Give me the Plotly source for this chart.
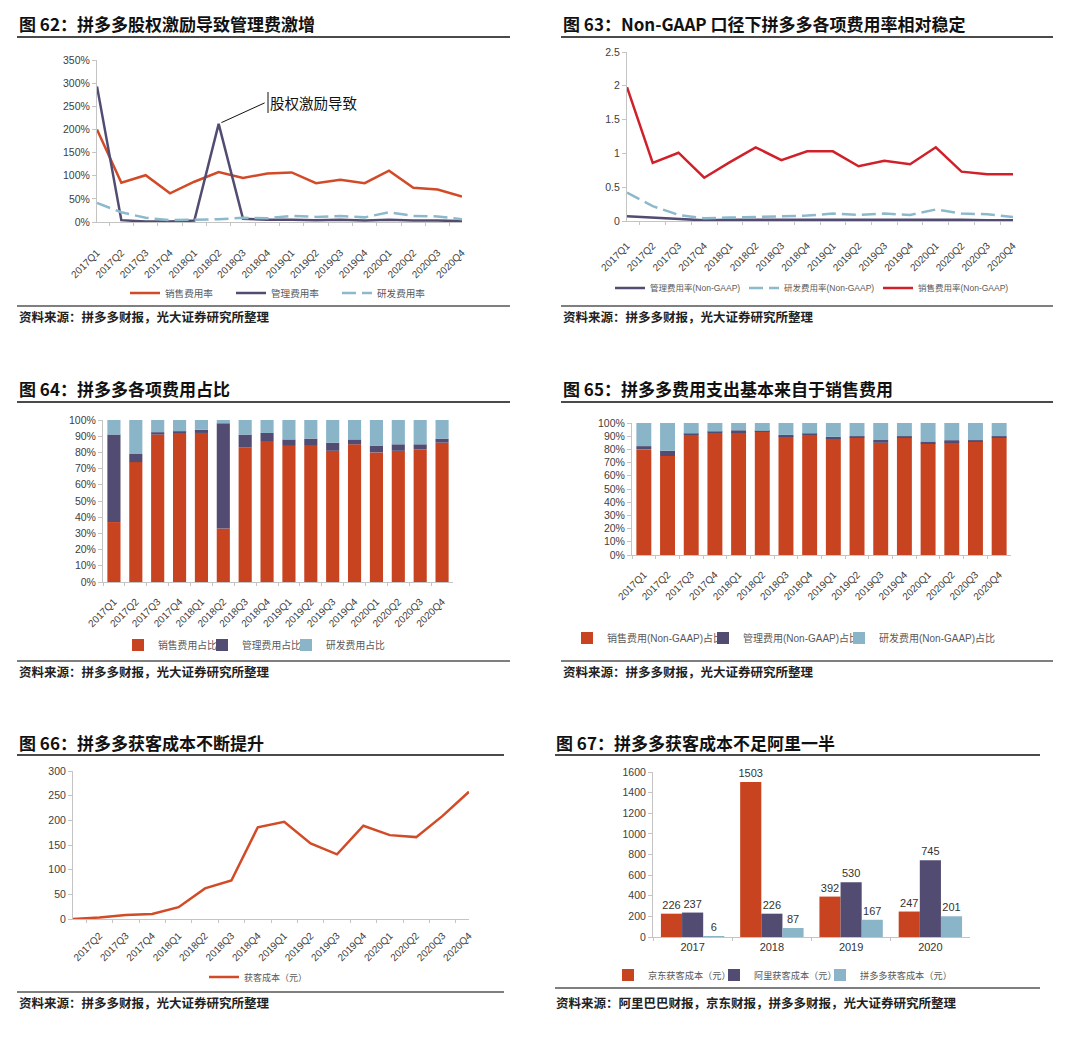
import plotly.graph_objects as go

# The page body has an 8px margin, so the figure is drawn 8px in from the window corner.
OFF = 8
W, H = 1072, 1024


def fx(p):
    return (p - OFF) / W


def fy(p):
    return 1 - (p - OFF) / H


# ---------------- data ----------------
quarters = ["2017Q1", "2017Q2", "2017Q3", "2017Q4",
            "2018Q1", "2018Q2", "2018Q3", "2018Q4",
            "2019Q1", "2019Q2", "2019Q3", "2019Q4",
            "2020Q1", "2020Q2", "2020Q3", "2020Q4"]

# 图62 (%)
sales62 = [200, 85, 101, 62, 87, 108, 95, 105, 107, 84, 91, 84, 111, 74, 70, 55]
admin62 = [293, 4, 1, 1, 3, 212, 7, 5, 5, 4, 5, 3, 5, 3, 3, 2]
rd62 = [41, 21, 9, 4, 5, 6, 9, 8, 13, 11, 13, 10, 21, 13, 12, 6]

# 图63
admin63 = [0.07, 0.05, 0.02, 0.01, 0.02, 0.02, 0.02, 0.02, 0.02, 0.02, 0.03, 0.02, 0.02, 0.02, 0.01, 0.01]
rd63 = [0.42, 0.22, 0.09, 0.04, 0.05, 0.06, 0.08, 0.08, 0.11, 0.09, 0.11, 0.09, 0.17, 0.11, 0.10, 0.06]
sales63 = [1.98, 0.86, 1.01, 0.64, 0.87, 1.09, 0.90, 1.03, 1.03, 0.81, 0.89, 0.84, 1.09, 0.73, 0.69, 0.69]

# 图64 (%)
sales64 = [37, 74, 91, 92, 92, 33, 83, 87, 84, 84.5, 81, 85, 80, 81, 82, 86]
admin64 = [54, 5, 1.5, 1, 2, 65, 8, 5, 4, 4, 5, 3, 4, 4, 3, 2.5]
rd64 = [9, 21, 7.5, 7, 6, 2, 9, 8, 12, 11.5, 14, 12, 16, 15, 15, 11.5]

# 图65 (%)
sales65 = [80, 75, 91, 92.5, 93, 93.5, 90, 91, 88, 89, 85, 89, 84.5, 85.5, 86, 89]
admin65 = [2.5, 4, 1, 1, 1.5, 0.5, 1, 1, 1.5, 1, 2.5, 1, 1.5, 1.5, 1, 1]
rd65 = [17.5, 21, 8, 6.5, 5.5, 6, 9, 8, 10.5, 10, 12.5, 10, 14, 13, 13, 10]

# 图66
cac66 = [0, 3, 8, 10, 24, 62, 78, 186, 197, 153, 131, 189, 170, 166, 209, 258]
labels66 = ["", "2017Q2", "2017Q3", "2017Q4",
            "2018Q1", "2018Q2", "2018Q3", "2018Q4",
            "2019Q1", "2019Q2", "2019Q3", "2019Q4",
            "2020Q1", "2020Q2", "2020Q3", "2020Q4"]

# 图67
years67 = ["2017", "2018", "2019", "2020"]
jd67 = [226, 1503, 392, 247]
ali67 = [237, 226, 530, 745]
pdd67 = [6, 87, 167, 201]

# ---------------- styles ----------------
RED = "#C8431F"
RED_LINE = "#D24A26"
RED63 = "#D0202A"
PURPLE = "#524C72"
BLUE = "#8AB4C8"
BLUE_LINE = "#8DB9CC"
AXIS = "#C4C4C4"
TICKC = "#404040"
LAT = "Liberation Sans, Arial, Noto Sans CJK SC"
CJK = "Noto Sans CJK SC, Liberation Sans"

fig = go.Figure()

# ---- 图62 ----
fig.add_trace(go.Scatter(x=quarters, y=sales62, name="销售费用率", mode="lines",
                         line=dict(color=RED_LINE, width=2.5), xaxis="x", yaxis="y", legend="legend"))
fig.add_trace(go.Scatter(x=quarters, y=admin62, name="管理费用率", mode="lines",
                         line=dict(color=PURPLE, width=2.5), xaxis="x", yaxis="y", legend="legend"))
fig.add_trace(go.Scatter(x=quarters, y=rd62, name="研发费用率", mode="lines",
                         line=dict(color=BLUE_LINE, width=2.5, dash="14px,6px"), xaxis="x", yaxis="y",
                         legend="legend", legendwidth=80))

# ---- 图63 ----
fig.add_trace(go.Scatter(x=quarters, y=admin63, name="管理费用率(Non-GAAP)", mode="lines",
                         line=dict(color=PURPLE, width=2.5), xaxis="x2", yaxis="y2", legend="legend2"))
fig.add_trace(go.Scatter(x=quarters, y=rd63, name="研发费用率(Non-GAAP)", mode="lines",
                         line=dict(color=BLUE_LINE, width=2.5, dash="14px,6px"), xaxis="x2", yaxis="y2",
                         legend="legend2"))
fig.add_trace(go.Scatter(x=quarters, y=sales63, name="销售费用率(Non-GAAP)", mode="lines",
                         line=dict(color=RED63, width=2.5), xaxis="x2", yaxis="y2", legend="legend2",
                         legendwidth=110))

# ---- 图64 (stacked) ----
base64_admin = list(sales64)
base64_rd = [s + a for s, a in zip(sales64, admin64)]
for name, vals, base, col, lw in [("销售费用占比", sales64, None, RED, None),
                                  ("管理费用占比", admin64, base64_admin, PURPLE, None),
                                  ("研发费用占比", rd64, base64_rd, BLUE, 80)]:
    fig.add_trace(go.Bar(x=quarters, y=vals, base=base, name=name, marker=dict(color=col, line=dict(width=0)),
                         width=0.6, offsetgroup="g64", xaxis="x3", yaxis="y3", legend="legend3",
                         legendwidth=lw))

# ---- 图65 (stacked) ----
base65_admin = list(sales65)
base65_rd = [s + a for s, a in zip(sales65, admin65)]
for name, vals, base, col, lw in [("销售费用(Non-GAAP)占比", sales65, None, RED, None),
                                  ("管理费用(Non-GAAP)占比", admin65, base65_admin, PURPLE, None),
                                  ("研发费用(Non-GAAP)占比", rd65, base65_rd, BLUE, 140)]:
    fig.add_trace(go.Bar(x=quarters, y=vals, base=base, name=name, marker=dict(color=col, line=dict(width=0)),
                         width=0.63, offsetgroup="g65", xaxis="x4", yaxis="y4", legend="legend4",
                         legendwidth=lw))

# ---- 图66 ----
fig.add_trace(go.Scatter(x=quarters, y=cac66, name="获客成本（元）", mode="lines",
                         line=dict(color=RED_LINE, width=2.5), xaxis="x5", yaxis="y5", legend="legend5"))

# ---- 图67 ----
for name, vals, col, lw in [("京东获客成本（元）", jd67, RED, None),
                            ("阿里获客成本（元）", ali67, PURPLE, None),
                            ("拼多多获客成本（元）", pdd67, BLUE, 110)]:
    fig.add_trace(go.Bar(x=years67, y=vals, name=name, marker=dict(color=col, line=dict(width=0)),
                         text=vals, textposition="outside", constraintext="none", cliponaxis=False,
                         textfont=dict(family=LAT, size=11, color="#333333"),
                         xaxis="x6", yaxis="y6", legend="legend6", legendwidth=lw))

# ---------------- axes ----------------
def yax(y0, y1, anchor, **kw):
    d = dict(domain=[fy(y1), fy(y0)], anchor=anchor, showline=True, linecolor=AXIS, linewidth=1,
             showgrid=False, zeroline=False, ticks="outside", ticklen=4, tickcolor=AXIS,
             tickfont=dict(family=LAT, size=10.5, color=TICKC), automargin=False)
    d.update(kw)
    return d


def xax(x0, x1, anchor, **kw):
    d = dict(domain=[fx(x0), fx(x1)], anchor=anchor, showline=True, linecolor=AXIS, linewidth=1,
             showgrid=False, zeroline=False, ticks="outside", ticklen=3, tickcolor=AXIS,
             tickfont=dict(family=LAT, size=10, color=TICKC), type="category", tickson="boundaries",
             automargin=False)
    d.update(kw)
    return d


layout_axes = dict(
    xaxis=xax(97, 462, "y", tickangle=-45, ticklabelstandoff=20),
    yaxis=yax(60, 222, "x", range=[0, 350], dtick=50, ticksuffix="%"),
    xaxis2=xax(627, 1013, "y2", tickangle=-45, ticklabelstandoff=14),
    yaxis2=yax(52, 221, "x2", range=[0, 2.5], dtick=0.5),
    xaxis3=xax(103, 453, "y3", tickangle=-45, ticklabelstandoff=9),
    yaxis3=yax(420, 582, "x3", range=[0, 100], dtick=10, ticksuffix="%"),
    xaxis4=xax(632, 1011, "y4", tickangle=-45, ticklabelstandoff=9),
    yaxis4=yax(423, 555, "x4", range=[0, 100], dtick=10, ticksuffix="%"),
    xaxis5=xax(73, 469, "y5", tickangle=-45, ticklabelstandoff=6, tickvals=quarters, ticktext=labels66),
    yaxis5=yax(771, 919, "x5", range=[0, 300], dtick=50),
    xaxis6=xax(653, 970, "y6", tickangle=0, tickfont=dict(family=LAT, size=11, color="#333333")),
    yaxis6=yax(772, 937, "x6", range=[0, 1600], dtick=200),
)

# ---------------- legends ----------------
def leg(x, y, size, ew):
    return dict(x=fx(x), y=fy(y), xanchor="left", yanchor="middle", orientation="h",
                font=dict(family=LAT, size=size, color="#595959"), bgcolor="rgba(0,0,0,0)",
                entrywidth=ew, entrywidthmode="pixels", itemclick=False, itemdoubleclick=False,
                traceorder="normal")


layout_legends = dict(
    legend=leg(125, 293, 9.6, 61),
    legend2=leg(610, 288, 8.5, 89),
    legend3=leg(118, 645, 9.8, 39),
    legend4=leg(567, 638, 10, 91),
    legend5=leg(204, 977, 9, 60),
    legend6=leg(608, 975, 9.2, 61),
)

# ---------------- titles, rules, sources ----------------
panels = [
    # title, tx, ty, rule_y, rx0, rx1, source, sy, srule_y
    ("图 62：拼多多股权激励导致管理费激增", 17, 23, 37, 17, 510,
     "资料来源：拼多多财报，光大证券研究所整理", 316, 306),
    ("图 63：Non-GAAP 口径下拼多多各项费用率相对稳定", 561, 23, 37, 561, 1053,
     "资料来源：拼多多财报，光大证券研究所整理", 316, 306),
    ("图 64：拼多多各项费用占比", 17, 388, 402, 17, 510,
     "资料来源：拼多多财报，光大证券研究所整理", 671, 661),
    ("图 65：拼多多费用支出基本来自于销售费用", 561, 388, 402, 561, 1053,
     "资料来源：拼多多财报，光大证券研究所整理", 671, 661),
    ("图 66：拼多多获客成本不断提升", 17, 742, 755, 17, 504,
     "资料来源：拼多多财报，光大证券研究所整理", 1002, 992),
    ("图 67：拼多多获客成本不足阿里一半", 554, 742, 755, 555, 1040,
     "资料来源：阿里巴巴财报，京东财报，拼多多财报，光大证券研究所整理", 1002, 988),
]

annotations = []
shapes = []
for title, tx, ty, ry, rx0, rx1, src, sy, sry in panels:
    annotations.append(dict(text="<b>" + title + "</b>", x=fx(tx), y=fy(ty), xref="paper", yref="paper",
                            xanchor="left", yanchor="middle", showarrow=False,
                            font=dict(family=CJK, size=17, color="#111111")))
    annotations.append(dict(text="<b>" + src + "</b>", x=fx(tx), y=fy(sy), xref="paper", yref="paper",
                            xanchor="left", yanchor="middle", showarrow=False,
                            font=dict(family=CJK, size=12.5, color="#222222")))
    shapes.append(dict(type="line", xref="paper", yref="paper", x0=fx(rx0), x1=fx(rx1), y0=fy(ry), y1=fy(ry),
                       line=dict(color="#4A4A4A", width=2)))
    shapes.append(dict(type="line", xref="paper", yref="paper", x0=fx(rx0), x1=fx(rx1), y0=fy(sry), y1=fy(sry),
                       line=dict(color="#555555", width=1.5)))

# callout in 图62
annotations.append(dict(x="2018Q2", y=admin62[5], xref="x", yref="y", text="股权激励导致",
                        showarrow=True, arrowhead=0, arrowwidth=1, arrowcolor="#111111",
                        ax=46, ay=-21, xanchor="left", yanchor="middle", standoff=3, borderpad=4,
                        font=dict(family=CJK, size=14.5, color="#111111")))
shapes.append(dict(type="line", xref="paper", yref="paper", x0=fx(268), x1=fx(268), y0=fy(92), y1=fy(113),
                   line=dict(color="#111111", width=1)))

fig.update_layout(
    width=W, height=H, margin=dict(l=0, r=0, t=0, b=0, autoexpand=False),
    paper_bgcolor="white", plot_bgcolor="white",
    font=dict(family=LAT, color=TICKC),
    barmode="group", bargap=0.2, bargroupgap=0,
    annotations=annotations, shapes=shapes,
    **layout_axes, **layout_legends,
)

fig.write_html("out.html")
